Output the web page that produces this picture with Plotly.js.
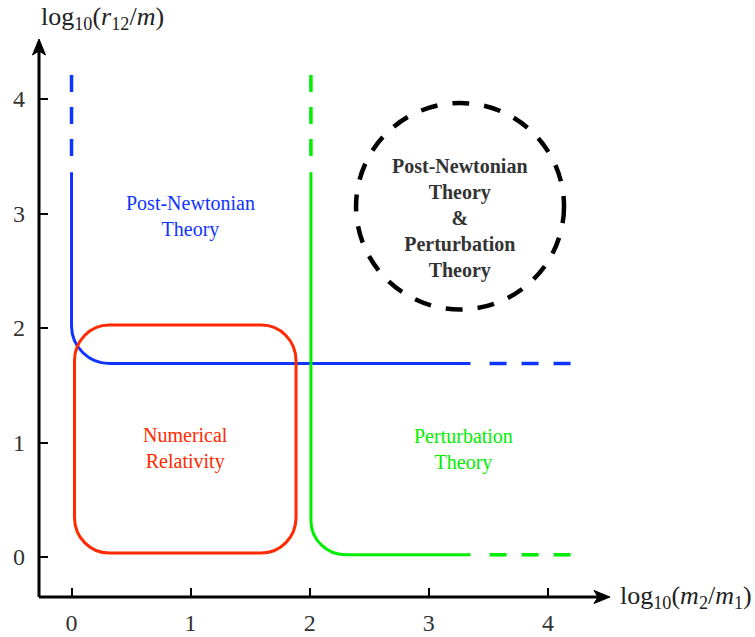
<!DOCTYPE html>
<html>
<head>
<meta charset="utf-8">
<script src="https://cdn.plot.ly/plotly-3.0.1.min.js"></script>
<style>html,body{margin:0;padding:0;background:#fff;}#chart{width:755px;height:637px;}</style>
</head>
<body>
<div id="chart"></div>
<script>
// ---- data ----
const xTicks = [0, 1, 2, 3, 4];
const yTicks = [0, 1, 2, 3, 4];
const xRange = [-0.273, 4.521];
const yRange = [-0.349, 4.524];

// Post-Newtonian boundary (blue)
const pnX = 0;                 // vertical line at log10(m2/m1)=0
const pnDashTop = [4.21, 3.49]; // dashed vertical part (y)
const pnSolidTop = 3.36;       // solid vertical starts
const pnY = 1.69;              // horizontal level
const pnCorner = [0.32, 0.33]; // corner radius (x, y)
const pnSolidEnd = 3.35;       // solid horizontal ends
const pnDashRight = [3.51, 4.2];

// Perturbation boundary (green)
const ptX = 2.01;
const ptDashTop = [4.21, 3.49];
const ptSolidTop = 3.36;
const ptY = 0.02;
const ptCorner = [0.29, 0.30];
const ptSolidEnd = 3.35;
const ptDashRight = [3.51, 4.2];

// Numerical relativity box (red)
const nrX = [0.025, 1.885];
const nrY = [0.035, 2.026];
const nrCorner = [0.29, 0.31];

// Overlap region (black dashed circle)
const ovX = [2.389, 4.135];
const ovY = [2.162, 3.965];

// labels
const labels = [
  {text: 'Post-Newtonian<br>Theory', x: 1.0, y: 2.97, color: '#1034ff', bold: false},
  {text: 'Numerical<br>Relativity', x: 0.955, y: 0.95, color: '#ff2a00', bold: false},
  {text: 'Perturbation<br>Theory', x: 3.29, y: 0.935, color: '#00ee00', bold: false},
  {text: 'Post-Newtonian<br>Theory<br>&amp;<br>Perturbation<br>Theory', x: 3.26, y: 2.96, color: '#333333', bold: true}
];

const BLUE = '#1034ff', RED = '#ff2a00', GREEN = '#00ee00';
const K = 0.5523;
const FONT = '"Liberation Serif", "Times New Roman", Times, serif';

function cornerPath(x, yTop, yFlat, r, xEnd) {
  const rx = r[0], ry = r[1];
  return 'M' + x + ',' + yTop +
    ' L' + x + ',' + (yFlat + ry) +
    ' C' + x + ',' + (yFlat + ry * (1 - K)) + ' ' + (x + rx * (1 - K)) + ',' + yFlat + ' ' + (x + rx) + ',' + yFlat +
    ' L' + xEnd + ',' + yFlat;
}
function roundRect(xs, ys, r) {
  const [x0, x1] = xs, [y0, y1] = ys, [rx, ry] = r;
  const kx = rx * K, ky = ry * K;
  return 'M' + (x0 + rx) + ',' + y1 +
    ' L' + (x1 - rx) + ',' + y1 +
    ' C' + (x1 - rx + kx) + ',' + y1 + ' ' + x1 + ',' + (y1 - ry + ky) + ' ' + x1 + ',' + (y1 - ry) +
    ' L' + x1 + ',' + (y0 + ry) +
    ' C' + x1 + ',' + (y0 + ry - ky) + ' ' + (x1 - rx + kx) + ',' + y0 + ' ' + (x1 - rx) + ',' + y0 +
    ' L' + (x0 + rx) + ',' + y0 +
    ' C' + (x0 + rx - kx) + ',' + y0 + ' ' + x0 + ',' + (y0 + ry - ky) + ' ' + x0 + ',' + (y0 + ry) +
    ' L' + x0 + ',' + (y1 - ry) +
    ' C' + x0 + ',' + (y1 - ry + ky) + ' ' + (x0 + rx - kx) + ',' + y1 + ' ' + (x0 + rx) + ',' + y1 + ' Z';
}

const DASH = '17px,15px';
const traces = [
  {x: [pnX, pnX], y: pnDashTop, mode: 'lines', line: {color: BLUE, width: 3.5, dash: DASH}},
  {x: pnDashRight, y: [pnY, pnY], mode: 'lines', line: {color: BLUE, width: 3.5, dash: DASH}},
  {x: [ptX, ptX], y: ptDashTop, mode: 'lines', line: {color: GREEN, width: 3.5, dash: DASH}},
  {x: ptDashRight, y: [ptY, ptY], mode: 'lines', line: {color: GREEN, width: 3.5, dash: DASH}}
];

const shapes = [
  {type: 'path', xref: 'x', yref: 'y', path: cornerPath(pnX, pnSolidTop, pnY, pnCorner, pnSolidEnd), line: {color: BLUE, width: 3}, layer: 'above'},
  {type: 'path', xref: 'x', yref: 'y', path: roundRect(nrX, nrY, nrCorner), line: {color: RED, width: 3}, layer: 'above'},
  {type: 'path', xref: 'x', yref: 'y', path: cornerPath(ptX, ptSolidTop, ptY, ptCorner, ptSolidEnd), line: {color: GREEN, width: 3}, layer: 'above'},
  {type: 'circle', xref: 'x', yref: 'y', x0: ovX[0], x1: ovX[1], y0: ovY[0], y1: ovY[1], line: {color: '#000', width: 4.5, dash: DASH}, layer: 'above'},
  // axes with arrows
  {type: 'line', xref: 'paper', yref: 'paper', x0: 0, x1: 0.985, y0: 0, y1: 0, line: {color: '#000', width: 3}, layer: 'above'},
  {type: 'line', xref: 'paper', yref: 'paper', x0: 0, x1: 0, y0: 0, y1: 0.985, line: {color: '#000', width: 3}, layer: 'above'},
  {type: 'path', xref: 'paper', yref: 'paper', xsizemode: 'pixel', ysizemode: 'pixel', xanchor: 1, yanchor: 0,
   path: 'M0,0 L-16,6.5 L-12,0 L-16,-6.5 Z', fillcolor: '#000', line: {color: '#000', width: 1}, layer: 'above'},
  {type: 'path', xref: 'paper', yref: 'paper', xsizemode: 'pixel', ysizemode: 'pixel', xanchor: 0, yanchor: 1,
   path: 'M0,0 L6.5,-16 L0,-12 L-6.5,-16 Z', fillcolor: '#000', line: {color: '#000', width: 1}, layer: 'above'}
];

const annotations = labels.map(l => ({
  x: l.x, y: l.y, xref: 'x', yref: 'y', showarrow: false,
  text: l.bold ? '<b>' + l.text + '</b>' : l.text,
  font: {family: FONT, size: 20, color: l.color}, align: 'center'
}));
annotations.push({
  xref: 'paper', yref: 'paper', x: 0.112, y: 1.038, xanchor: 'center', yanchor: 'middle', showarrow: false,
  text: 'log<sub>10</sub>(<i>r</i><sub>12</sub>/<i>m</i>)', font: {family: FONT, size: 26, color: '#222'}
});
annotations.push({
  xref: 'paper', yref: 'paper', x: 1.014, y: 0.0, xanchor: 'left', yanchor: 'middle', showarrow: false,
  text: 'log<sub>10</sub>(<i>m</i><sub>2</sub>/<i>m</i><sub>1</sub>)', font: {family: FONT, size: 26, color: '#222'}
});

const axisCommon = {
  showgrid: false, zeroline: false, showline: false,
  ticks: 'inside', ticklen: 9, tickwidth: 2, tickcolor: '#000',
  tickfont: {family: FONT, size: 24, color: '#333'}, fixedrange: true
};

const layout = {
  width: 755, height: 637,
  margin: {l: 39, r: 145, t: 39, b: 40},
  paper_bgcolor: '#fff', plot_bgcolor: '#fff',
  showlegend: false,
  font: {family: FONT},
  xaxis: Object.assign({}, axisCommon, {range: xRange, tickvals: xTicks, ticktext: xTicks.map(String), ticklabelstandoff: 9}),
  yaxis: Object.assign({}, axisCommon, {range: yRange, tickvals: yTicks, ticktext: yTicks.map(String), ticklabelstandoff: 13}),
  shapes: shapes,
  annotations: annotations
};

Plotly.newPlot('chart', traces, layout, {displayModeBar: false, staticPlot: true});
</script>
</body>
</html>
